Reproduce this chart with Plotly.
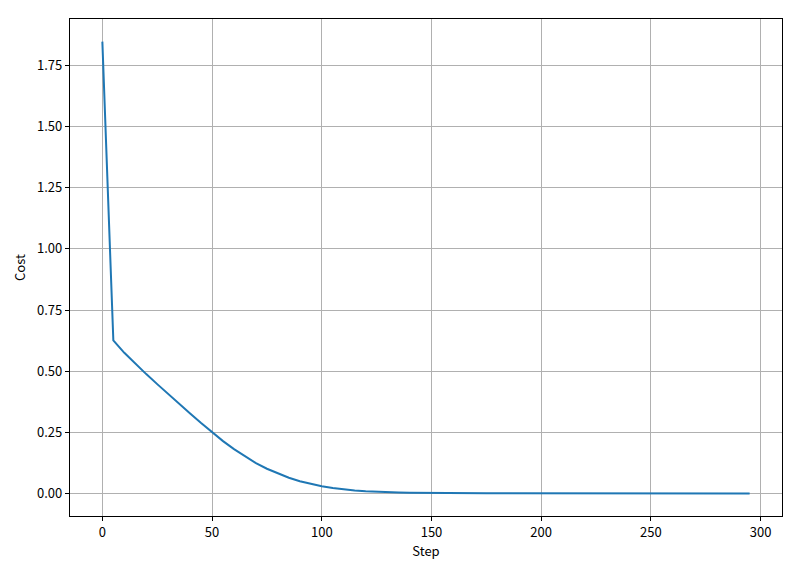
import plotly.graph_objects as go

steps = list(range(0, 300, 5))
cost = [
    1.848, 0.626, 0.575, 0.530, 0.488, 0.447, 0.406, 0.366, 0.327, 0.288,
    0.250, 0.214, 0.181, 0.151, 0.124, 0.101, 0.081, 0.064, 0.050, 0.038,
    0.029, 0.022, 0.016, 0.012, 0.0087, 0.0063, 0.0046, 0.0033, 0.0024, 0.0017,
    0.0012, 0.0009, 0.0006, 0.0004, 0.0003, 0.0002, 0.00015, 0.0001, 0.00008, 0.00006,
    0.00005, 0.00004, 0.00003, 0.00002, 0.00002, 0.00001, 0.00001, 0.00001, 0.00001, 0.00001,
    0.00001, 0.00001, 0.00001, 0.00001, 0.00001, 0.00001, 0.00001, 0.00001, 0.00001, 0.00001,
]
xticks = [0, 50, 100, 150, 200, 250, 300]
yticks = [0.0, 0.25, 0.5, 0.75, 1.0, 1.25, 1.5, 1.75]

FONT = "Noto Sans CJK SC"

fig = go.Figure()
fig.add_trace(go.Scatter(x=steps, y=cost, mode="lines",
                         line=dict(color="#1f77b4", width=2)))

axis_common = dict(
    showline=True, linecolor="black", linewidth=1.2, mirror=True,
    showgrid=True, gridcolor="#b0b0b0", gridwidth=1,
    ticks="outside", ticklen=4, tickcolor="black", tickwidth=1,
    zeroline=False, automargin=False,
    tickfont=dict(family=FONT, size=13, color="black"),
)

fig.update_layout(
    width=792, height=562,
    margin=dict(l=62, r=18, t=11, b=54),
    paper_bgcolor="white", plot_bgcolor="white",
    showlegend=False,
    xaxis=dict(range=[-14.75, 309.75], tickvals=xticks,
               title=dict(text="Step", font=dict(family=FONT, size=13, color="black"), standoff=6),
               **axis_common),
    yaxis=dict(range=[-0.0924, 1.9404], tickvals=yticks, tickformat=".2f",
               title=dict(text="Cost", font=dict(family=FONT, size=13, color="black"), standoff=8),
               **axis_common),
)

fig.write_html("out.html")
